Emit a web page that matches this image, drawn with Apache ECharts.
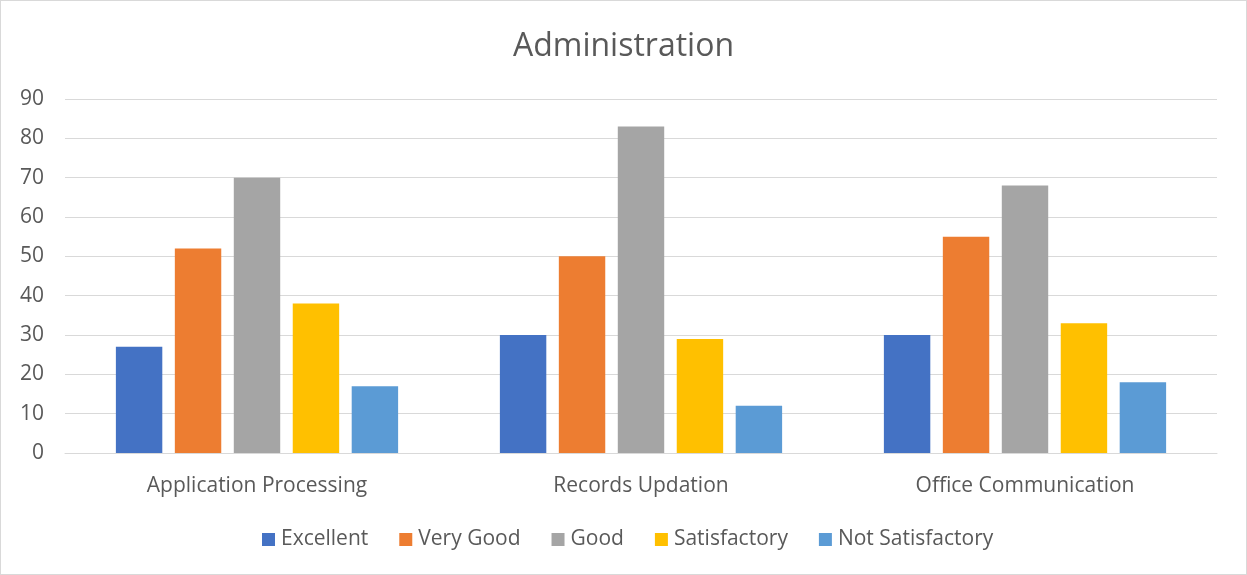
<!DOCTYPE html>
<html>
<head>
<meta charset="utf-8">
<script src="https://cdn.jsdelivr.net/npm/echarts@6/dist/echarts.min.js"></script>
<style>
  html, body { margin: 0; padding: 0; background: #fff; }
  #chart { width: 1245px; height: 573px; border: 1px solid #d9d9d9; }
</style>
</head>
<body>
<div id="chart"></div>
<script>
// categories and series values
const categories = ['Application Processing', 'Records Updation', 'Office Communication'];
const excellent = [27, 30, 30];
const veryGood = [52, 50, 55];
const good = [70, 83, 68];
const satisfactory = [38, 29, 33];
const notSatisfactory = [17, 12, 18];

const seriesNames = ['Excellent', 'Very Good', 'Good', 'Satisfactory', 'Not Satisfactory'];
const seriesValues = [excellent, veryGood, good, satisfactory, notSatisfactory];
const colors = ['#4472c4', '#ed7d31', '#a5a5a5', '#ffc000', '#5b9bd5'];

const font = '"Open Sans", Lato, sans-serif';
const textColor = '#595959';

let myChart = echarts.init(document.getElementById('chart'));
let option = {
  animation: false,
  color: colors,
  title: {
    text: 'Administration',
    left: 'center',
    top: 25,
    textStyle: { fontFamily: font, fontSize: 32, fontWeight: 'normal', color: textColor }
  },
  legend: {
    bottom: 19,
    left: 256,
    itemWidth: 13,
    itemHeight: 13,
    itemGap: 31,
    icon: 'rect',
    textStyle: { fontFamily: font, fontSize: 21, color: textColor, padding: [0, 0, 0, 1] },
    data: seriesNames
  },
  grid: { left: 64, right: 29, top: 98, bottom: 121 },
  xAxis: {
    type: 'category',
    data: categories,
    axisTick: { show: false },
    axisLine: { lineStyle: { color: '#d9d9d9', width: 1 } },
    axisLabel: { margin: 23, fontFamily: font, fontSize: 21, color: textColor }
  },
  yAxis: {
    type: 'value',
    min: 0,
    max: 90,
    interval: 10,
    axisLabel: { margin: 21, fontFamily: font, fontSize: 21, color: textColor },
    splitLine: { lineStyle: { color: '#d9d9d9', width: 1 } }
  },
  series: seriesNames.map((name, i) => ({
    name: name,
    type: 'bar',
    data: seriesValues[i],
    barGap: '27%',
    barCategoryGap: '26.5%'
  }))
};
option && myChart.setOption(option);
</script>
</body>
</html>
